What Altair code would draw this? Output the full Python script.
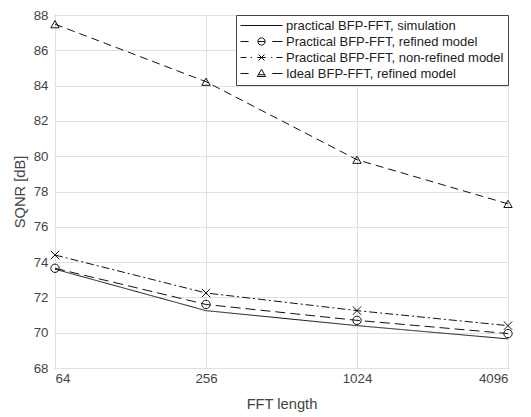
import altair as alt
import pandas as pd

fft_len = [64, 256, 1024, 4096]
series_names = [
    "practical BFP-FFT, simulation",
    "Practical BFP-FFT, refined model",
    "Practical BFP-FFT, non-refined model",
    "Ideal BFP-FFT, refined model",
]
sim = [73.6, 71.25, 70.4, 69.65]
refined = [73.65, 71.6, 70.7, 69.95]
nonref = [74.4, 72.25, 71.25, 70.4]
ideal = [87.48, 84.22, 79.8, 77.3]
y_ticks = [68, 70, 72, 74, 76, 78, 80, 82, 84, 86, 88]

rows = []
for name, vals in zip(series_names, [sim, refined, nonref, ideal]):
    for n, v in zip(fft_len, vals):
        rows.append({"series": name, "N": n, "sqnr": v})
df = pd.DataFrame(rows)

dashes = [[1, 0], [10, 5], [8, 3, 2, 3], [8, 5]]
x_path = "M-1,-1L1,1M-1,1L1,-1"
marker_shapes = ["circle", x_path, "triangle-up"]

# legend symbols: 1 unit = 3 px (symbolSize 36), half width 7 units = 21 px
legend_paths = [
    "M-7,0H7",
    "M-7,0H-4.3M-1.2,0A1.2,1.2 0 1,0 1.2,0A1.2,1.2 0 1,0 -1.2,0M-1.2,0H1.2M3.6,0H7",
    "M-7,0H-5M-3.6,0H-3.2M-1,-1L1,1M-1,1L1,-1M-1.4,0H1.4M3.2,0H3.6M5,0H7",
    "M-7,0H-4.3M0,-1.4L1.4,1L-1.4,1ZM-1,0.4H1M3.6,0H7",
]

xenc = alt.X(
    "N:Q",
    scale=alt.Scale(type="log", base=2, domain=[64, 4096], nice=False),
    axis=alt.Axis(values=fft_len, format="d", title="FFT length", grid=True, labelOverlap=False),
)
yenc = alt.Y(
    "sqnr:Q",
    scale=alt.Scale(domain=[68, 88], nice=False, zero=False),
    axis=alt.Axis(values=y_ticks, title="SQNR [dB]", grid=True, labelOverlap=False, tickCount=11),
)

lines = alt.Chart(df).mark_line(color="#111111", strokeWidth=1).encode(
    x=xenc,
    y=yenc,
    detail="series:N",
    strokeDash=alt.StrokeDash(
        "series:N", scale=alt.Scale(domain=series_names, range=dashes), legend=None
    ),
)

points = (
    alt.Chart(df)
    .transform_filter(alt.datum.series != series_names[0])
    .mark_point(filled=False, color="#111111", size=70, strokeWidth=1, opacity=1)
    .encode(
        x=xenc,
        y=yenc,
        shape=alt.Shape(
            "series:N",
            scale=alt.Scale(domain=series_names[1:], range=marker_shapes),
            legend=None,
        ),
    )
)

legend_layer = (
    alt.Chart(df)
    .mark_point(filled=False, color="#111111", opacity=0)
    .encode(
        x=xenc,
        y=yenc,
        shape=alt.Shape(
            "series:N",
            scale=alt.Scale(domain=series_names, range=legend_paths),
            legend=alt.Legend(
                title=None,
                orient="top-right",
                offset=0,
                padding=4,
                strokeColor="#444444",
                fillColor="white",
                symbolSize=36,
                symbolOffset=15,
                symbolStrokeWidth=1,
                symbolStrokeColor="#111111",
                symbolFillColor="transparent",
                symbolOpacity=1,
                labelFontSize=13,
                labelFont="Liberation Sans",
                labelColor="#222222",
                labelOffset=18,
                rowPadding=2,
                labelLimit=400,
            ),
        ),
    )
)

chart = (
    alt.layer(lines, points, legend_layer)
    .resolve_scale(shape="independent")
    .properties(
        width=453,
        height=353,
        autosize=alt.AutoSizeParams(type="none"),
        padding={"left": 47, "top": 7, "right": 15, "bottom": 45},
    )
    .configure_view(stroke="#555555", strokeWidth=1)
    .configure_axis(
        gridColor="#e0e0e0",
        gridWidth=1,
        domain=False,
        ticks=False,
        labelFont="Liberation Sans",
        labelFontSize=13.3,
        labelColor="#444444",
        titleFont="Liberation Sans",
        titleFontSize=14.7,
        titleFontWeight="normal",
        titleColor="#444444",
    )
    .configure_axisY(labelPadding=7, titlePadding=6)
    .configure_axisX(labelPadding=3, titlePadding=12)
)

chart.save("out.html", embed_options={"renderer": "svg", "actions": False})
